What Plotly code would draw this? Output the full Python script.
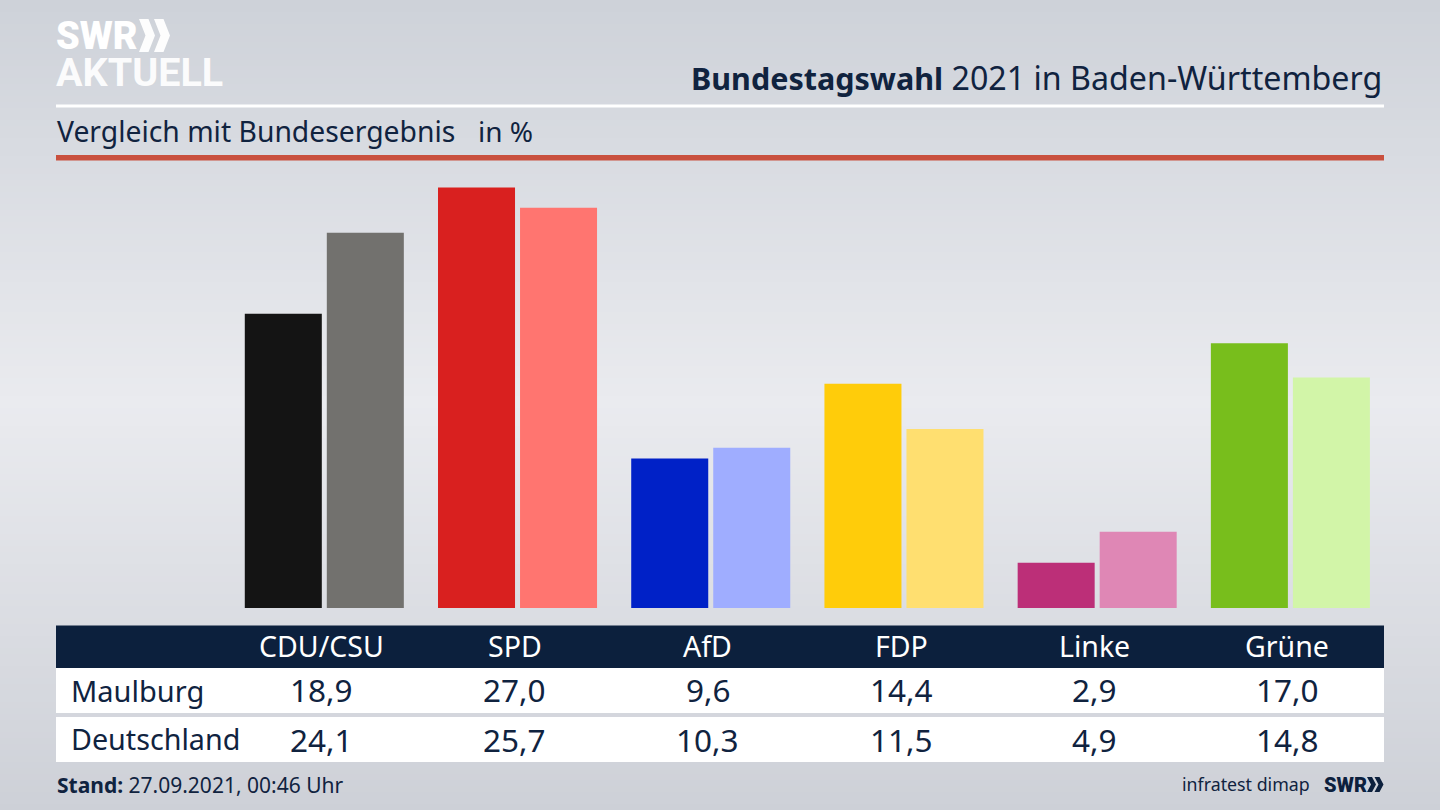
import plotly.graph_objects as go

W, H = 1440, 810

parties = ["CDU/CSU", "SPD", "AfD", "FDP", "Linke", "Grüne"]
maulburg = [18.9, 27.0, 9.6, 14.4, 2.9, 17.0]
deutschland = [24.1, 25.7, 10.3, 11.5, 4.9, 14.8]
colors_local = ["#141414", "#d9201f", "#0021c7", "#ffcc0a", "#bc2f78", "#78be1c"]
colors_national = ["#72716e", "#ff7570", "#9fadff", "#ffdf70", "#df87b5", "#d2f5a8"]
row_names = ["Maulburg", "Deutschland"]

NAVY = "#0c203d"
TXT = "#10233f"
FONT = "Noto Sans"
LOGO = "Roboto"


def px(x):
    return x / W


def py(y):
    return 1 - y / H


def rect(x0, y0, x1, y1, color, layer="above"):
    return dict(type="rect", xref="paper", yref="paper", x0=px(x0), x1=px(x1), y0=py(y0), y1=py(y1),
                fillcolor=color, line=dict(width=0), layer=layer)


def chevrons(x, y, w, h, t, gap, color, opacity=1):
    """Two '>>' marks, left edge x, top y, width of one w, height h, thickness t."""
    out = []
    for i in range(2):
        a = x + i * gap
        pts = [(a, y), (a + t, y), (a + w, y + h / 2), (a + t, y + h), (a, y + h), (a + w - t, y + h / 2)]
        path = "M " + " L ".join(f"{px(p)},{py(q)}" for p, q in pts) + " Z"
        out.append(dict(type="path", xref="paper", yref="paper", path=path, fillcolor=color,
                        line=dict(width=0), opacity=opacity, layer="above"))
    return out


def text(x, y, s, size, color=TXT, anchor="left", weight=None, family=FONT, opacity=1):
    f = dict(size=size, color=color, family=family)
    if weight:
        f["weight"] = weight
    return dict(xref="paper", yref="paper", x=px(x), y=py(y), text=s, showarrow=False, xanchor=anchor,
                yanchor="middle", font=f, borderpad=0, opacity=opacity)


# background: vertical gradient
shapes = []
top, mid, bot = (206, 210, 217), (234, 235, 239), (205, 208, 215)
step = 6
for y in range(0, H, step):
    c0, c1, t = (top, mid, y / 400) if y < 400 else (mid, bot, (y - 400) / (H - 400))
    rgb = [round(a + (b - a) * t) for a, b in zip(c0, c1)]
    shapes.append(rect(0, y, W, y + step + 1, f"rgb({rgb[0]},{rgb[1]},{rgb[2]})", layer="below"))

# rules and table
shapes += [
    rect(56, 104.5, 1384, 107.5, "#ffffff"),
    rect(56, 155, 1384, 160.5, "#c9503e"),
    rect(56, 625.5, 1384, 668, NAVY),
    rect(56, 668, 1384, 713, "#ffffff"),
    rect(56, 717, 1384, 762, "#ffffff"),
]
shapes += chevrons(139, 19, 16, 33, 9.5, 15, "#ffffff", 0.95)
shapes += chevrons(1367, 777, 9, 15, 5, 7.5, NAVY)

fig = go.Figure()
fig.add_bar(x=parties, y=maulburg, name=row_names[0], marker=dict(color=colors_local, line=dict(width=0)))
fig.add_bar(x=parties, y=deutschland, name=row_names[1], marker=dict(color=colors_national, line=dict(width=0)))

ann = [
    text(1383, 77, '<b><span style="font-size:30.5px">Bundestagswahl</span></b> 2021 in Baden-Württemberg',
         32.2, anchor="right"),
    text(56, 131, "Vergleich mit Bundesergebnis", 28.3),
    text(476.5, 131, "in %", 28),
    text(55, 36, "SWR", 38, color="#ffffff", weight=900, family=LOGO),
    text(55, 72, "AKTUELL", 39.5, color="#ffffff", weight=700, family=LOGO, opacity=0.92),
    text(55.5, 785, "<b>Stand:</b> 27.09.2021, 00:46 Uhr", 21),
    text(1311, 784, "infratest dimap", 17.8, anchor="right"),
    text(1323, 785, "SWR", 20, color=NAVY, weight=900, family=LOGO),
    text(69.5, 690, row_names[0], 29),
    text(69.5, 738.5, row_names[1], 28.7),
]
col_x = [321, 514.5, 707.5, 901, 1094, 1287]
for xc, p, a, b in zip(col_x, parties, maulburg, deutschland):
    ann.append(text(xc, 646, p, 28.5, color="#ffffff", anchor="center"))
    ann.append(text(xc, 689.5, f"{a:.1f}".replace(".", ","), 31.5, anchor="center"))
    ann.append(text(xc, 739, f"{b:.1f}".replace(".", ","), 31.5, anchor="center"))

fig.update_layout(
    width=W, height=H, autosize=False,
    margin=dict(l=0, r=0, t=0, b=0),
    paper_bgcolor="#dfe1e6", plot_bgcolor="rgba(0,0,0,0)",
    barmode="group", bargap=0.151, bargroupgap=0.061,
    showlegend=False, shapes=shapes, annotations=ann,
    xaxis=dict(domain=[227.7 / W, 1387 / W], range=[-0.5, 5.5], type="category", visible=False),
    yaxis=dict(domain=[(H - 608) / H, (H - 160) / H], range=[0, 448 / 15.57], visible=False),
)
fig.write_html("out.html", config=dict(displayModeBar=False),
               post_script="document.body.style.margin='0';document.documentElement.style.overflow='hidden';")
